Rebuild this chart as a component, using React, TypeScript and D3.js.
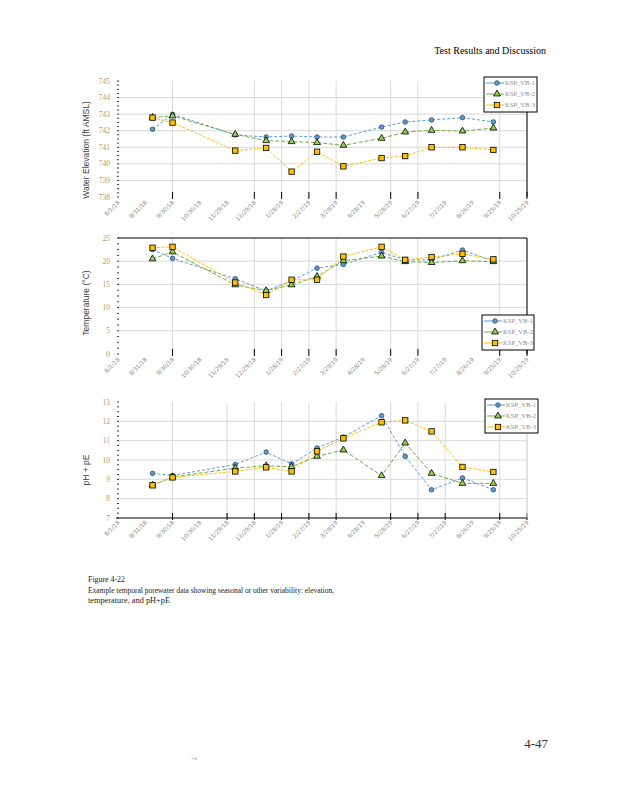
import React, { useRef, useEffect } from "react";
import * as d3 from "d3";

// sampling dates shared by the three panels
const sampleDates = ["9/8/18", "9/30/18", "12/8/18", "1/11/19", "2/8/19", "3/8/19", "4/6/19", "5/18/19", "6/13/19", "7/12/19", "8/15/19", "9/18/19"];

const tickLabels = ["8/1/18", "8/31/18", "9/30/18", "10/30/18", "11/29/18", "12/29/18", "1/28/19", "2/27/19", "3/29/19", "4/28/19", "5/28/19", "6/27/19", "7/27/19", "8/26/19", "9/25/19", "10/25/19"];

const gridA = ["9/30/18", "12/29/18", "1/28/19", "2/27/19", "3/29/19", "5/28/19", "6/27/19", "9/25/19", "10/25/19"];
const gridB = ["9/30/18", "11/29/18", "12/29/18", "1/28/19", "2/27/19", "3/29/19", "5/28/19", "6/27/19", "7/27/19", "9/25/19", "10/25/19"];

const seriesNames = ["KSP_VB-1", "KSP_VB-2", "KSP_VB-3"];

const elevVB1 = [742.09, 742.99, 741.75, 741.62, 741.68, 741.62, 741.62, 742.22, 742.53, 742.65, 742.79, 742.53];
const elevVB2 = [742.8, 742.89, 741.78, 741.4, 741.34, 741.28, 741.12, 741.54, 741.92, 742.02, 741.98, 742.16];
const elevVB3 = [742.79, 742.49, 740.8, 740.96, 739.53, 740.73, 739.85, 740.35, 740.47, 741.0, 741.0, 740.84];

const tempVB1 = [22.5, 20.6, 16.2, 13.6, 15.8, 18.5, 19.3, 21.9, 20.3, 20.3, 22.4, 20.0];
const tempVB2 = [20.5, 22.0, 14.9, 13.65, 14.9, 16.7, 20.1, 21.1, 19.9, 19.7, 20.1, 19.9];
const tempVB3 = [22.9, 23.1, 15.4, 12.7, 16.0, 16.0, 21.0, 23.1, 20.3, 20.9, 21.6, 20.4];

const phVB1 = [9.31, 9.2, 9.77, 10.41, 9.8, 10.62, 11.19, 12.29, 10.19, 8.46, 9.07, 8.46];
const phVB2 = [8.7, 9.12, 9.58, 9.7, 9.65, 10.19, 10.52, 9.19, 10.88, 9.31, 8.79, 8.79];
const phVB3 = [8.69, 9.1, 9.41, 9.62, 9.41, 10.45, 11.12, 11.95, 12.05, 11.48, 9.64, 9.38];

const colors = ["#5B9BD5", "#70AD47", "#FFC000"];
const markerFill = ["#5B9BD5", "#92D050", "#FFC000"];
const dashes = ["3,2", "4,2", "3,1.5"];

export default function App() {
    const ref = useRef<SVGSVGElement>(null);

    useEffect(() => {
        const svg = d3.select(ref.current);
        svg.selectAll("*").remove();
        const parse = d3.timeParse("%m/%d/%y");
        const left = 118;
        const right = 527;
        const x = d3.scaleTime()
            .domain([parse(tickLabels[0])!, parse(tickLabels[tickLabels.length - 1])!])
            .range([left, right]);

        const panels = [
            { top: 81, bottom: 197, domain: [738, 745], title: "Water Elevation (ft AMSL)", titleY: 150, data: [elevVB1, elevVB2, elevVB3], grid: gridA, legend: [484, 77, 53, 35], frameTop: false, frameRight: true, axisLine: false, labelTop: 203 },
            { top: 238, bottom: 354, domain: [0, 25], ticks: [0, 5, 10, 15, 20, 25], title: "Temperature (°C)", titleY: 303, data: [tempVB1, tempVB2, tempVB3], grid: gridA, legend: [482, 315, 52, 35], frameTop: true, frameRight: true, axisLine: false, labelTop: 360 },
            { top: 402, bottom: 518, domain: [7, 13], title: "pH + pE", titleY: 470, data: [phVB1, phVB2, phVB3], grid: gridB, legend: [485, 399, 53, 34], frameTop: false, frameRight: false, axisLine: true, labelTop: 523 },
        ];

        panels.forEach((p) => {
            const y = d3.scaleLinear().domain(p.domain).range([p.bottom, p.top]);
            const g = svg.append("g");
            const yTicks = p.ticks ?? d3.range(p.domain[0], p.domain[1] + 1, 1);

            // horizontal gridlines
            g.selectAll("line.hg").data(yTicks.filter((v) => v !== p.domain[0] && v !== p.domain[1])).enter().append("line")
                .attr("x1", left).attr("x2", right)
                .attr("y1", (d) => y(d)).attr("y2", (d) => y(d))
                .style("stroke", "#d9d9d9").style("stroke-width", 1);
            // vertical gridlines
            g.selectAll("line.vg").data(p.grid).enter().append("line")
                .attr("x1", (d) => x(parse(d)!)).attr("x2", (d) => x(parse(d)!))
                .attr("y1", p.top).attr("y2", p.bottom)
                .style("stroke", "#d9d9d9").style("stroke-width", 1);
            // black tick marks at axis
            g.selectAll("line.tk").data(p.grid).enter().append("line")
                .attr("x1", (d) => x(parse(d)!)).attr("x2", (d) => x(parse(d)!))
                .attr("y1", p.bottom - 5).attr("y2", p.bottom + 2)
                .style("stroke", "#000").style("stroke-width", 1);
            // minor left ticks
            const step = (p.domain[1] - p.domain[0]) / ((yTicks.length - 1) * 4);
            g.selectAll("line.mt").data(d3.range(p.domain[0], p.domain[1] + 0.001, step)).enter().append("line")
                .attr("x1", left - 1).attr("x2", left + 1)
                .attr("y1", (d) => y(d)).attr("y2", (d) => y(d))
                .style("stroke", "#000").style("stroke-width", 0.8);

            if (p.frameTop) {
                g.append("line").attr("x1", left).attr("x2", right).attr("y1", p.top).attr("y2", p.top)
                    .style("stroke", "#000").style("stroke-width", 1);
            }
            g.append("line").attr("x1", right).attr("x2", right).attr("y1", p.top).attr("y2", p.bottom)
                .style("stroke", p.frameRight ? "#000" : "#d9d9d9").style("stroke-width", 1);
            if (p.axisLine) {
                g.append("line").attr("x1", left - 2).attr("x2", right).attr("y1", p.bottom).attr("y2", p.bottom)
                    .style("stroke", "#000").style("stroke-width", 1);
            }

            // y tick labels
            g.selectAll("text.yl").data(yTicks).enter().append("text")
                .attr("x", 110).attr("y", (d) => y(d) + 2.5)
                .attr("text-anchor", "end")
                .style("font-family", "Liberation Serif").style("font-size", "7.5px").style("fill", "#b9936c")
                .text((d) => d);

            // x tick labels
            g.selectAll("text.xl").data(tickLabels).enter().append("text")
                .attr("transform", (d) => `translate(${x(parse(d)!) + 2},${p.labelTop}) rotate(-45)`)
                .attr("text-anchor", "end")
                .style("font-family", "DejaVu Sans").style("font-size", "5.8px").style("fill", "#8a8a8a")
                .text((d) => d);

            // axis title
            g.append("text")
                .attr("transform", `translate(89,${p.titleY}) rotate(-90)`)
                .attr("text-anchor", "middle")
                .style("font-family", "Liberation Sans").style("font-size", "8.5px").style("fill", "#404040")
                .text(p.title);

            // series
            p.data.forEach((vals, i) => {
                const pts = vals.map((v, k) => [x(parse(sampleDates[k])!), y(v)] as [number, number]);
                const line = d3.line();
                g.append("path").attr("d", line(pts))
                    .style("fill", "none").style("stroke", colors[i]).style("stroke-width", 1)
                    .style("stroke-dasharray", dashes[i]);
                drawMarkers(g, pts, i);
            });

            // legend
            const [lx, ly, lw, lh] = p.legend;
            g.append("rect").attr("x", lx).attr("y", ly).attr("width", lw).attr("height", lh)
                .style("fill", "#fff").style("stroke", "#000").style("stroke-width", 1);
            seriesNames.forEach((name, i) => {
                const yy = ly + 6 + i * 11;
                g.append("line").attr("x1", lx + 2).attr("x2", lx + 20).attr("y1", yy).attr("y2", yy)
                    .style("stroke", colors[i]).style("stroke-width", 1);
                drawMarkers(g, [[lx + 13, yy]], i);
                g.append("text").attr("x", lx + 21).attr("y", yy + 2.3)
                    .attr("textLength", 30).attr("lengthAdjust", "spacingAndGlyphs")
                    .style("font-family", "Liberation Serif").style("font-size", "6.5px").style("fill", "#8c8c8c")
                    .text(name);
            });
        });

        function drawMarkers(g: any, pts: [number, number][], i: number) {
            if (i === 0) {
                g.selectAll(null).data(pts).enter().append("circle")
                    .attr("cx", (d: any) => d[0]).attr("cy", (d: any) => d[1]).attr("r", 2.3)
                    .style("fill", markerFill[i]).style("stroke", "#1f3b57").style("stroke-width", 0.7);
            } else if (i === 1) {
                const sym = d3.symbol().type(d3.symbolTriangle).size(20);
                g.selectAll(null).data(pts).enter().append("path")
                    .attr("d", sym())
                    .attr("transform", (d: any) => `translate(${d[0]},${d[1]})`)
                    .style("fill", markerFill[i]).style("stroke", "#000").style("stroke-width", 0.8);
            } else {
                g.selectAll(null).data(pts).enter().append("rect")
                    .attr("x", (d: any) => d[0] - 2.7).attr("y", (d: any) => d[1] - 2.7)
                    .attr("width", 5.4).attr("height", 5.4)
                    .style("fill", markerFill[i]).style("stroke", "#000").style("stroke-width", 0.8);
            }
        }

        // page texts
        svg.append("text").attr("x", 546).attr("y", 54).attr("text-anchor", "end")
            .style("font-family", "Liberation Serif").style("font-size", "10px").style("fill", "#000")
            .text("Test Results and Discussion");
        svg.append("text").attr("x", 88).attr("y", 582)
            .style("font-family", "Liberation Serif").style("font-size", "8px").style("fill", "#1a1a1a")
            .attr("textLength", 37).attr("lengthAdjust", "spacingAndGlyphs")
            .text("Figure 4-22");
        svg.append("text").attr("x", 88).attr("y", 593)
            .style("font-family", "Liberation Serif").style("font-size", "8px").style("fill", "#1a1a1a")
            .attr("textLength", 246).attr("lengthAdjust", "spacingAndGlyphs")
            .text("Example temporal porewater data showing seasonal or other variability: elevation,");
        svg.append("text").attr("x", 88).attr("y", 603)
            .style("font-family", "Liberation Serif").style("font-size", "8px").style("fill", "#1a1a1a")
            .attr("textLength", 82).attr("lengthAdjust", "spacingAndGlyphs")
            .text("temperature, and pH+pE");
        svg.append("text").attr("x", 548).attr("y", 748).attr("text-anchor", "end")
            .style("font-family", "Liberation Serif").style("font-size", "13px").style("fill", "#333")
            .text("4-47");
        svg.append("text").attr("x", 190).attr("y", 760)
            .style("font-family", "Liberation Sans").style("font-size", "4px").style("fill", "#888")
            .text("ʼ  ▪ 4");
    }, []);

    return (
        <svg ref={ref} width={618} height={800} style={{ position: "absolute", left: 0, top: 0, background: "#fff" }}></svg>
    );
}
